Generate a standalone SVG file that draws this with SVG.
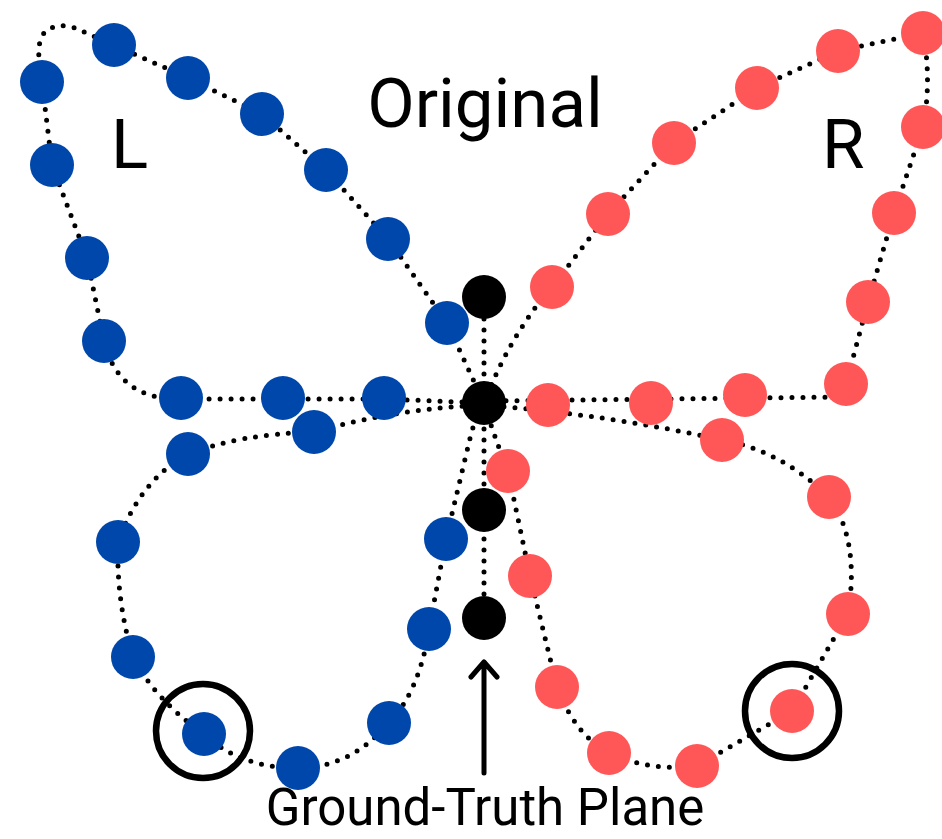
<svg xmlns="http://www.w3.org/2000/svg" width="942" height="839" viewBox="0 0 942 839">
<defs>
<style>
.dl{fill:none;stroke:#000;stroke-width:5;stroke-linecap:round;stroke-dasharray:0 11}
.b{fill:#0047ab}
.r{fill:#ff5757}
.k{fill:#000}
.ring{fill:none;stroke:#000;stroke-width:6.5}
.t{font-family:Roboto,"Liberation Sans",sans-serif;fill:#000}
</style>
</defs>
<rect width="942" height="839" fill="#fff"/>
<g id="connectors">
<path class="dl" d="M484,403 L384,399 L283,399 L181,399 Q118,400 104,341 L87,258 L52,165 L42,82 C34,38 40,24 70,26 L114,45 L188,78 L262,114 L326,170 L388,239 L447,323 L484,403"/>
<path class="dl" d="M484,405 Q400,408 314,432 Q240,434 188,454 Q140,480 118,542 Q116,600 133,657 Q155,700 204,734 Q240,768 298,768 Q350,768 389,723 Q420,690 429,629 L446,539 L472,430 L484,403"/>
<path class="dl" d="M484,297 L484,618"/>
<path class="dl" d="M484,405 L498,445 L508,471 L530,576 L557,687 Q575,735 609,753 Q650,772 697,766 L792,711 L848,614 Q860,540 829,497 Q780,450 722,440 Q610,415 484,405"/>
<path class="dl" d="M484,401 L848,397 L846,384 L868,302 L894,213 L923,127 Q932,80 923,33 L838,51 L757,88 L674,143 L608,214 L552,287 Q510,335 484,403"/>
<path d="M484,773 L484,662 M471,677 L484,662 L497,677" fill="none" stroke="#000" stroke-width="5" stroke-linecap="round" stroke-linejoin="round"/>
</g>
<g id="blue">
<circle class="b" cx="114" cy="45" r="22"/>
<circle class="b" cx="42" cy="82" r="22"/>
<circle class="b" cx="188" cy="78" r="22"/>
<circle class="b" cx="262" cy="114" r="22"/>
<circle class="b" cx="52" cy="165" r="22"/>
<circle class="b" cx="326" cy="170" r="22"/>
<circle class="b" cx="87" cy="258" r="22"/>
<circle class="b" cx="388" cy="239" r="22"/>
<circle class="b" cx="104" cy="341" r="22"/>
<circle class="b" cx="447" cy="323" r="22"/>
<circle class="b" cx="181" cy="398" r="22"/>
<circle class="b" cx="283" cy="398" r="22"/>
<circle class="b" cx="384" cy="398" r="22"/>
<circle class="b" cx="314" cy="432" r="22"/>
<circle class="b" cx="188" cy="454" r="22"/>
<circle class="b" cx="118" cy="542" r="22"/>
<circle class="b" cx="446" cy="539" r="22"/>
<circle class="b" cx="133" cy="657" r="22"/>
<circle class="b" cx="429" cy="629" r="22"/>
<circle class="b" cx="204" cy="734" r="22"/>
<circle class="b" cx="298" cy="768" r="22"/>
<circle class="b" cx="389" cy="723" r="22"/>
</g>
<g id="red">
<circle class="r" cx="923" cy="33" r="22"/>
<circle class="r" cx="838" cy="51" r="22"/>
<circle class="r" cx="757" cy="88" r="22"/>
<circle class="r" cx="923" cy="127" r="22"/>
<circle class="r" cx="674" cy="143" r="22"/>
<circle class="r" cx="894" cy="213" r="22"/>
<circle class="r" cx="608" cy="214" r="22"/>
<circle class="r" cx="868" cy="302" r="22"/>
<circle class="r" cx="552" cy="287" r="22"/>
<circle class="r" cx="846" cy="384" r="22"/>
<circle class="r" cx="548" cy="405" r="22"/>
<circle class="r" cx="651" cy="403" r="22"/>
<circle class="r" cx="745" cy="395" r="22"/>
<circle class="r" cx="722" cy="440" r="22"/>
<circle class="r" cx="508" cy="471" r="22"/>
<circle class="r" cx="829" cy="497" r="22"/>
<circle class="r" cx="530" cy="576" r="22"/>
<circle class="r" cx="848" cy="614" r="22"/>
<circle class="r" cx="557" cy="687" r="22"/>
<circle class="r" cx="792" cy="711" r="22"/>
<circle class="r" cx="609" cy="753" r="22"/>
<circle class="r" cx="697" cy="766" r="22"/>
</g>
<g id="plane">
<circle class="k" cx="484" cy="297" r="22"/>
<circle class="k" cx="484" cy="403" r="22"/>
<circle class="k" cx="484" cy="510" r="22"/>
<circle class="k" cx="484" cy="618" r="22"/>
</g>
<g id="highlights">
<circle class="ring" cx="203" cy="731" r="47"/>
<circle class="ring" cx="792" cy="711" r="47"/>
</g>
<g id="labels">
<text class="t" x="485" y="127" font-size="69" text-anchor="middle">Original</text>
<text class="t" x="111" y="168" font-size="69">L</text>
<text class="t" x="822" y="168" font-size="69">R</text>
<text class="t" x="485" y="825" font-size="51" text-anchor="middle">Ground-Truth Plane</text>
</g>
</svg>
